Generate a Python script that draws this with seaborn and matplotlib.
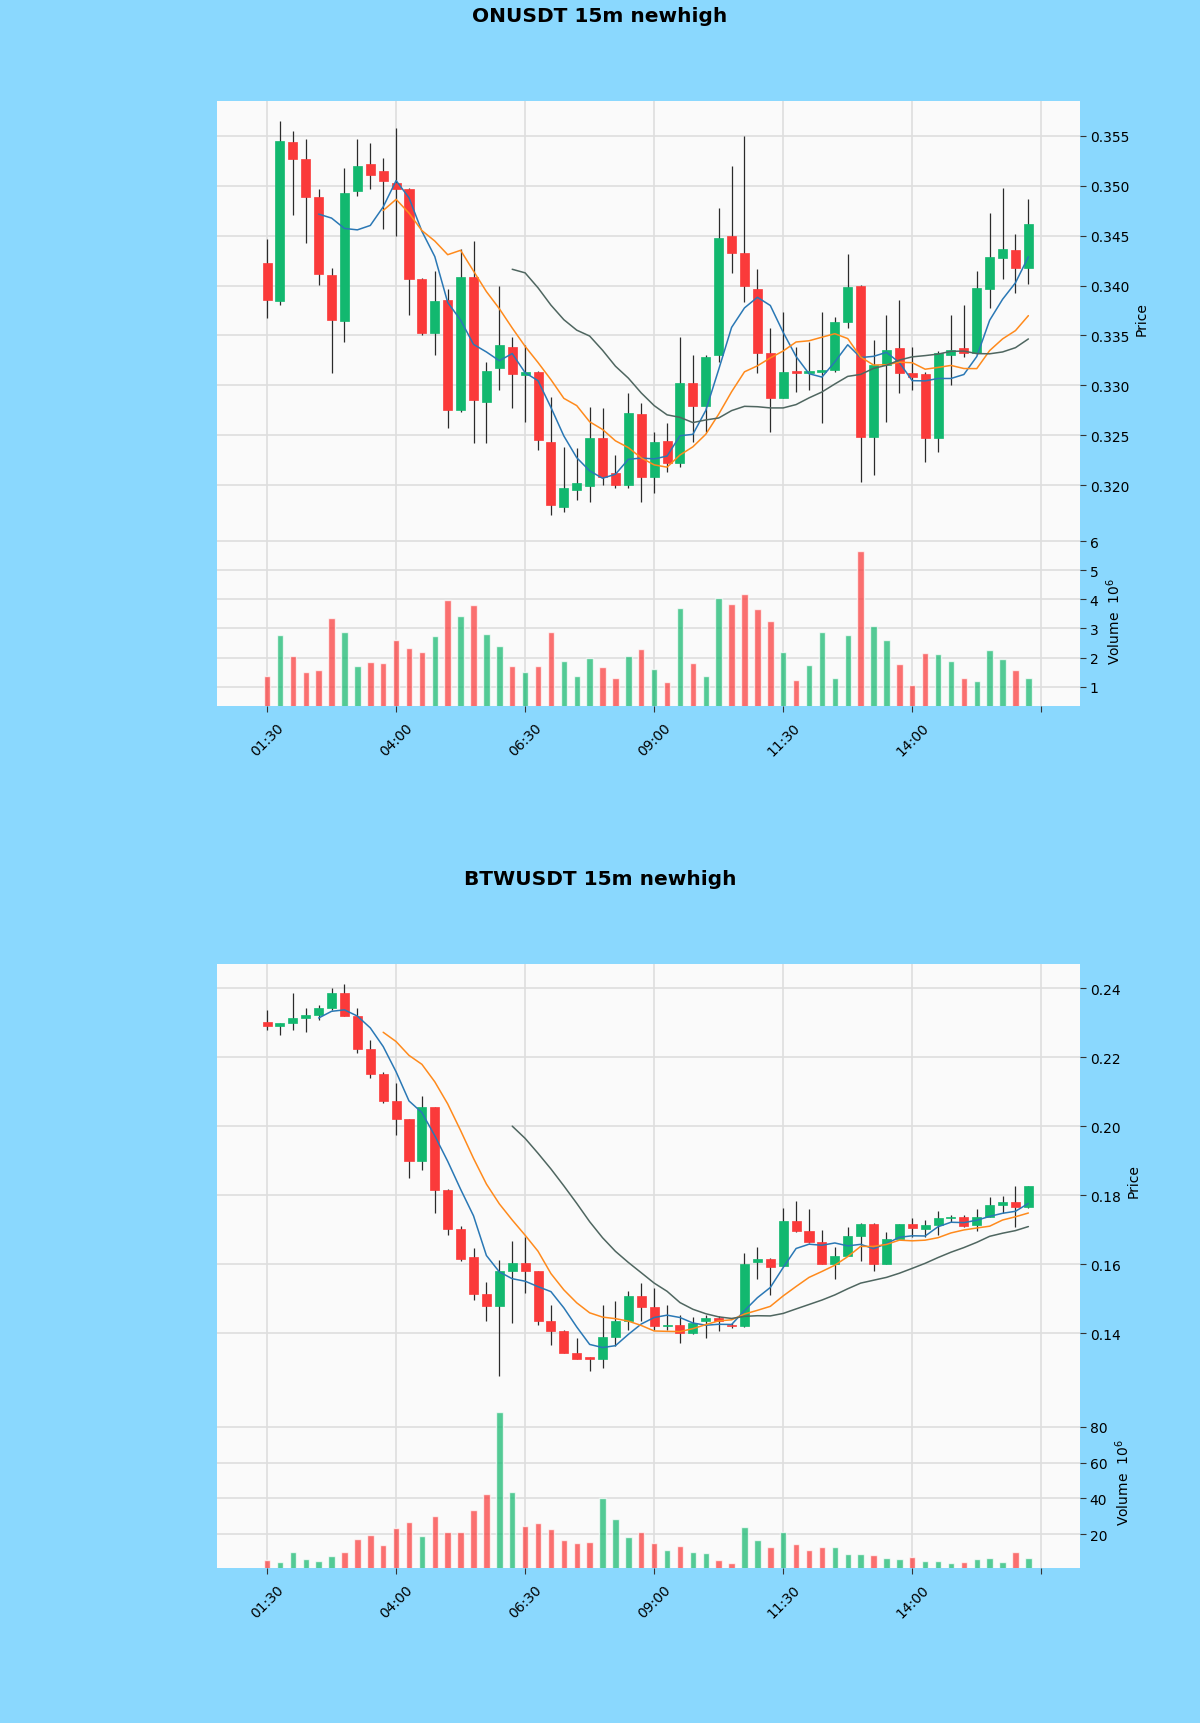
import numpy as np
import pandas as pd
import matplotlib
matplotlib.use("Agg")
import matplotlib.pyplot as plt
import seaborn as sns

# ONUSDT 15m candles (01:30 .. 16:15)
on_open = [0.3423, 0.3384, 0.3544, 0.3527, 0.3489, 0.3411, 0.3364, 0.3495, 0.3522, 0.3515,
           0.3503, 0.3497, 0.3407, 0.3352, 0.3385, 0.3275, 0.3409, 0.3283, 0.3317, 0.3338,
           0.3310, 0.3313, 0.3243, 0.3178, 0.3195, 0.3199, 0.3247, 0.3212, 0.3200, 0.3271,
           0.3208, 0.3244, 0.3222, 0.3302, 0.3279, 0.3330, 0.3450, 0.3433, 0.3397, 0.3332,
           0.3287, 0.3314, 0.3312, 0.3313, 0.3315, 0.3363, 0.3400, 0.3248, 0.3320, 0.3337,
           0.3312, 0.3311, 0.3247, 0.3330, 0.3337, 0.3332, 0.3397, 0.3428, 0.3436, 0.3418]
on_high = [0.3447, 0.3565, 0.3555, 0.3547, 0.3497, 0.3418, 0.3518, 0.3547, 0.3543, 0.3528,
           0.3558, 0.3498, 0.3408, 0.3415, 0.3397, 0.3437, 0.3445, 0.3323, 0.3400, 0.3348,
           0.3340, 0.3314, 0.3288, 0.3238, 0.3237, 0.3278, 0.3277, 0.3230, 0.3292, 0.3282,
           0.3253, 0.3262, 0.3348, 0.3330, 0.3330, 0.3478, 0.3520, 0.3550, 0.3417, 0.3357,
           0.3373, 0.3338, 0.3343, 0.3373, 0.3368, 0.3432, 0.3401, 0.3345, 0.3370, 0.3385,
           0.3338, 0.3313, 0.3334, 0.3370, 0.3380, 0.3415, 0.3473, 0.3498, 0.3452, 0.3487]
on_low = [0.3367, 0.3380, 0.3471, 0.3443, 0.3401, 0.3312, 0.3343, 0.3490, 0.3497, 0.3457,
          0.3450, 0.3370, 0.3350, 0.3330, 0.3257, 0.3273, 0.3242, 0.3242, 0.3295, 0.3277,
          0.3263, 0.3235, 0.3170, 0.3173, 0.3185, 0.3183, 0.3200, 0.3197, 0.3197, 0.3183,
          0.3192, 0.3213, 0.3218, 0.3243, 0.3253, 0.3323, 0.3413, 0.3383, 0.3312, 0.3253,
          0.3287, 0.3293, 0.3295, 0.3262, 0.3313, 0.3357, 0.3203, 0.3210, 0.3263, 0.3292,
          0.3295, 0.3223, 0.3233, 0.3300, 0.3328, 0.3331, 0.3377, 0.3407, 0.3393, 0.3402]
on_close = [0.3385, 0.3545, 0.3527, 0.3489, 0.3412, 0.3365, 0.3493, 0.3520, 0.3511, 0.3505,
            0.3497, 0.3407, 0.3352, 0.3384, 0.3275, 0.3409, 0.3285, 0.3314, 0.3340, 0.3311,
            0.3313, 0.3245, 0.3180, 0.3197, 0.3202, 0.3247, 0.3208, 0.3200, 0.3272, 0.3208,
            0.3243, 0.3222, 0.3302, 0.3279, 0.3328, 0.3448, 0.3433, 0.3400, 0.3332, 0.3287,
            0.3313, 0.3312, 0.3314, 0.3315, 0.3363, 0.3399, 0.3248, 0.3320, 0.3335, 0.3312,
            0.3308, 0.3247, 0.3332, 0.3335, 0.3332, 0.3398, 0.3429, 0.3437, 0.3418, 0.3462]
on_volume = [1.35, 2.78, 2.06, 1.50, 1.56, 3.37, 2.88, 1.72, 1.86, 1.82,
             2.59, 2.32, 2.20, 2.75, 3.98, 3.43, 3.81, 2.82, 2.40, 1.72,
             1.51, 1.72, 2.88, 1.89, 1.35, 1.98, 1.66, 1.30, 2.04, 2.29,
             1.61, 1.17, 3.72, 1.81, 1.35, 4.04, 3.84, 4.20, 3.67, 3.27,
             2.18, 1.24, 1.75, 2.87, 1.30, 2.78, 5.66, 3.10, 2.60, 1.79,
             1.07, 2.15, 2.12, 1.87, 1.30, 1.18, 2.27, 1.96, 1.56, 1.30]

# BTWUSDT 15m candles
btw_open = [0.2303, 0.2289, 0.2299, 0.2313, 0.2323, 0.2342, 0.2387, 0.2320, 0.2223, 0.2152,
            0.2072, 0.2020, 0.1898, 0.2054, 0.1816, 0.1702, 0.1620, 0.1513, 0.1479, 0.1580,
            0.1603, 0.1579, 0.1434, 0.1407, 0.1344, 0.1331, 0.1326, 0.1389, 0.1434, 0.1508,
            0.1476, 0.1420, 0.1424, 0.1400, 0.1434, 0.1444, 0.1424, 0.1420, 0.1606, 0.1616,
            0.1596, 0.1724, 0.1695, 0.1663, 0.1601, 0.1624, 0.1682, 0.1717, 0.1601, 0.1673,
            0.1716, 0.1703, 0.1714, 0.1733, 0.1738, 0.1714, 0.1738, 0.1770, 0.1780, 0.1767]
btw_high = [0.2337, 0.2300, 0.2387, 0.2342, 0.2352, 0.2400, 0.2413, 0.2342, 0.2250, 0.2158,
            0.2125, 0.2021, 0.2086, 0.2055, 0.1817, 0.1710, 0.1647, 0.1547, 0.1613, 0.1666,
            0.1680, 0.1580, 0.1482, 0.1408, 0.1386, 0.1332, 0.1482, 0.1492, 0.1521, 0.1545,
            0.1531, 0.1482, 0.1453, 0.1448, 0.1453, 0.1449, 0.1429, 0.1632, 0.1651, 0.1617,
            0.1762, 0.1782, 0.1760, 0.1698, 0.1651, 0.1709, 0.1718, 0.1719, 0.1692, 0.1717,
            0.1733, 0.1727, 0.1753, 0.1743, 0.1743, 0.1760, 0.1794, 0.1798, 0.1825, 0.1827]
btw_low = [0.2279, 0.2265, 0.2277, 0.2274, 0.2308, 0.2337, 0.2318, 0.2212, 0.2139, 0.2067,
           0.1975, 0.1849, 0.1873, 0.1748, 0.1685, 0.1608, 0.1497, 0.1434, 0.1275, 0.1429,
           0.1516, 0.1424, 0.1366, 0.1342, 0.1324, 0.1289, 0.1299, 0.1362, 0.1410, 0.1434,
           0.1410, 0.1410, 0.1371, 0.1397, 0.1386, 0.1405, 0.1415, 0.1418, 0.1557, 0.1511,
           0.1594, 0.1694, 0.1662, 0.1600, 0.1557, 0.1623, 0.1608, 0.1579, 0.1600, 0.1672,
           0.1680, 0.1680, 0.1685, 0.1722, 0.1709, 0.1695, 0.1737, 0.1748, 0.1709, 0.1762]
btw_close = [0.2289, 0.2299, 0.2313, 0.2323, 0.2342, 0.2386, 0.2320, 0.2223, 0.2152, 0.2072,
             0.2020, 0.1898, 0.2054, 0.1816, 0.1702, 0.1615, 0.1513, 0.1479, 0.1579, 0.1603,
             0.1579, 0.1434, 0.1407, 0.1344, 0.1326, 0.1326, 0.1389, 0.1434, 0.1508, 0.1476,
             0.1420, 0.1423, 0.1400, 0.1429, 0.1443, 0.1434, 0.1420, 0.1601, 0.1616, 0.1591,
             0.1724, 0.1695, 0.1663, 0.1601, 0.1624, 0.1682, 0.1717, 0.1601, 0.1673, 0.1716,
             0.1704, 0.1714, 0.1735, 0.1738, 0.1711, 0.1738, 0.1770, 0.1780, 0.1767, 0.1825]
btw_volume = [5.4, 4.5, 9.7, 6.0, 4.7, 7.8, 10.1, 17.1, 19.6, 14.0,
              23.3, 26.8, 19.0, 30.2, 21.4, 21.4, 33.3, 42.3, 88.5, 43.6,
              24.6, 26.1, 22.7, 16.6, 14.9, 15.8, 40.0, 28.3, 18.4, 20.9,
              14.9, 11.0, 13.4, 9.7, 9.3, 5.2, 3.7, 23.8, 16.8, 12.7,
              20.9, 14.2, 11.0, 12.5, 13.0, 8.8, 8.6, 8.2, 6.3, 6.0,
              7.4, 5.0, 5.0, 3.5, 4.1, 6.0, 6.3, 4.1, 9.7, 6.3]

tick_labels = ['01:30', '04:00', '06:30', '09:00', '11:30', '14:00', '']
mav_windows = [5, 10, 20]
mav_colors = ['#2a78b5', '#ff8a1c', '#4f6660']

UP = '#12b86f'
DOWN = '#fa3a3a'
BG = '#8ad8fe'

sns.set_theme(style='whitegrid', rc={
    'axes.facecolor': '#fafafa',
    'figure.facecolor': BG,
    'grid.color': '#dedede',
    'grid.linewidth': 1.2,
    'text.color': 'black',
    'axes.labelcolor': 'black',
    'xtick.color': 'black',
    'ytick.color': 'black',
})
plt.rcParams['font.family'] = ['DejaVu Sans']

fig = plt.figure(figsize=(12, 17.24), dpi=100)

L, W = 0.1806, 0.7194


def style_axis(ax):
    for s in ax.spines.values():
        s.set_visible(False)
    ax.yaxis.tick_right()
    ax.yaxis.set_label_position('right')
    ax.tick_params(axis='y', right=True, length=4, width=0.8, color='#333333',
                   labelsize=10, labelcolor='black', pad=3)
    ax.set_xlim(-3.9, 63.0)


def draw_chart(title, ty, price_box, vol_box, o, h, l, c, v, yticks, yfmt, vticks):
    o, h, l, c, v = map(np.asarray, (o, h, l, c, v))
    idx = np.arange(len(c))
    up = c >= o
    cols = np.where(up, UP, DOWN)

    axp = fig.add_axes(price_box)
    axv = fig.add_axes(vol_box, sharex=axp)

    # wicks and bodies
    axp.vlines(idx, l, h, color='#2b2b2b', lw=0.9, zorder=2)
    body = np.abs(c - o)
    body = np.where(body < 0.0002 * c, 0.0002 * c, body)
    axp.bar(idx, body, bottom=np.minimum(o, c), width=0.7, color=cols,
            edgecolor=cols, lw=0.5, zorder=3)

    # moving averages
    close = pd.Series(c)
    for win, col in zip(mav_windows, mav_colors):
        ma = close.rolling(win).mean()
        ok = ma.notna()
        sns.lineplot(x=idx[ok], y=ma[ok].values, ax=axp, color=col, lw=1.1, zorder=4)

    r = h.max() - l.min()
    axp.set_ylim(l.min() - 0.05 * r, h.max() + 0.05 * r)
    axp.set_yticks(yticks)
    axp.set_yticklabels([yfmt.format(t) for t in yticks])
    axp.set_ylabel('Price', fontsize=10)
    style_axis(axp)
    axp.tick_params(axis='x', bottom=False, labelbottom=False)

    # volume
    vdf = pd.DataFrame({'i': idx, 'vol': v, 'dir': np.where(up, 'up', 'down')})
    sns.barplot(data=vdf, x='i', y='vol', hue='dir', palette={'up': UP, 'down': DOWN},
                native_scale=True, width=0.5, dodge=False, saturation=1, alpha=0.72,
                legend=False, ax=axv, zorder=3)
    axv.set_ylim(0.3 * v.min(), 1.1 * v.max())
    axv.set_yticks(vticks)
    axv.set_yticklabels([str(t) for t in vticks])
    axv.set_ylabel('Volume  $10^{6}$', fontsize=10)
    axv.set_xlabel('')
    style_axis(axv)
    axv.set_xticks(np.arange(0, 61, 10))
    axv.set_xticklabels(tick_labels, rotation=45, ha='center', fontsize=10)
    axv.tick_params(axis='x', bottom=True, length=4, width=0.8, color='#333333', pad=6)
    axv.grid(True)

    fig.text(0.5, ty, title, ha='center', va='center', fontsize=14.5, weight='bold',
             color='black')


draw_chart('ONUSDT 15m newhigh', 0.9904,
           [L, 0.6893, W, 0.2514], [L, 0.5897, W, 0.0996],
           on_open, on_high, on_low, on_close, on_volume,
           [0.320, 0.325, 0.330, 0.335, 0.340, 0.345, 0.350, 0.355], '{:.3f}',
           [1, 2, 3, 4, 5, 6])

draw_chart('BTWUSDT 15m newhigh', 0.4901,
           [L, 0.1897, W, 0.2506], [L, 0.0900, W, 0.0997],
           btw_open, btw_high, btw_low, btw_close, btw_volume,
           [0.14, 0.16, 0.18, 0.20, 0.22, 0.24], '{:.2f}',
           [20, 40, 60, 80])

fig.savefig('out.png', dpi=100, facecolor=BG)
